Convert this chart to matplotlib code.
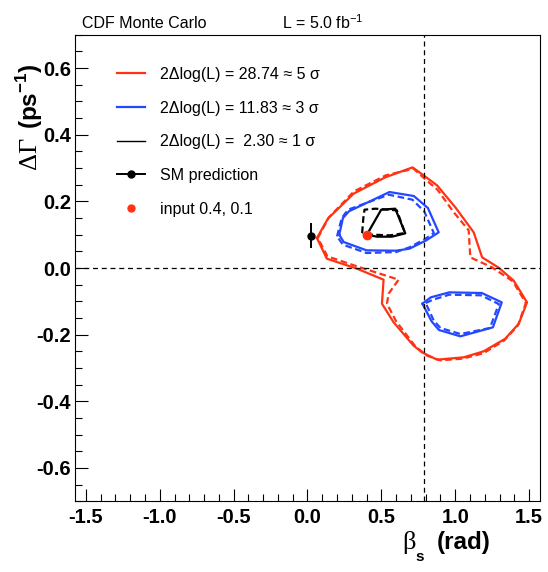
import numpy as np
import matplotlib
matplotlib.use("Agg")
import matplotlib.pyplot as plt
from matplotlib.lines import Line2D

plt.rcParams["font.family"] = ["Liberation Sans", "DejaVu Sans"]
plt.rcParams["axes.unicode_minus"] = False
plt.rcParams["mathtext.fontset"] = "custom"
plt.rcParams["mathtext.rm"] = "Liberation Sans"
plt.rcParams["mathtext.bf"] = "Liberation Sans:bold"

# 5 sigma contour (one closed loop around both islands)
red_x = [0.064, 0.138, 0.312, 0.526, 0.711, 0.786, 0.877, 1.001, 1.125, 1.182, 1.294,
         1.396, 1.486, 1.430, 1.339, 1.192, 1.057, 0.877, 0.775, 0.718, 0.583, 0.504,
         0.515, 0.335, 0.131]
red_y = [0.090, 0.148, 0.223, 0.272, 0.302, 0.278, 0.248, 0.182, 0.107, 0.032, 0.001,
         -0.038, -0.103, -0.167, -0.212, -0.250, -0.268, -0.275, -0.253, -0.233, -0.163,
         -0.107, -0.035, -0.002, 0.028]
red_dash_x = [0.070, 0.145, 0.315, 0.530, 0.718, 0.800, 0.880, 0.985, 1.091, 1.102, 1.249,
              1.390, 1.478, 1.425, 1.330, 1.190, 1.050, 0.899, 0.809, 0.730, 0.600, 0.538,
              0.549, 0.617, 0.335, 0.135]
red_dash_y = [0.090, 0.152, 0.230, 0.278, 0.298, 0.265, 0.235, 0.170, 0.113, 0.032, 0.002,
              -0.040, -0.105, -0.172, -0.218, -0.256, -0.272, -0.277, -0.263, -0.235, -0.160,
              -0.107, -0.077, -0.035, 0.005, 0.035]

# 3 sigma contours (two islands)
blue_up_x = [0.215, 0.240, 0.280, 0.555, 0.720, 0.815, 0.888, 0.800, 0.690, 0.600, 0.400, 0.245]
blue_up_y = [0.100, 0.150, 0.170, 0.228, 0.216, 0.180, 0.107, 0.082, 0.058, 0.052, 0.053, 0.078]
blue_up_dash_x = [0.200, 0.232, 0.275, 0.550, 0.710, 0.790, 0.855, 0.800, 0.690, 0.600, 0.400, 0.240]
blue_up_dash_y = [0.095, 0.150, 0.175, 0.220, 0.205, 0.170, 0.105, 0.088, 0.062, 0.048, 0.045, 0.070]
blue_lo_x = [0.778, 0.835, 0.960, 1.180, 1.315, 1.255, 1.035, 0.890, 0.840]
blue_lo_y = [-0.107, -0.088, -0.073, -0.075, -0.103, -0.178, -0.205, -0.186, -0.160]
blue_lo_dash_x = [0.800, 0.850, 0.960, 1.175, 1.295, 1.235, 1.035, 0.900, 0.855]
blue_lo_dash_y = [-0.105, -0.095, -0.080, -0.082, -0.108, -0.180, -0.198, -0.180, -0.158]

# 1 sigma contour
black_x = [0.402, 0.499, 0.594, 0.662, 0.572, 0.470]
black_y = [0.100, 0.175, 0.178, 0.104, 0.094, 0.094]
black_dash_x = [0.370, 0.378, 0.386, 0.460, 0.605, 0.660, 0.560, 0.440]
black_dash_y = [0.105, 0.150, 0.175, 0.178, 0.173, 0.105, 0.098, 0.100]

sm_beta, sm_dg, sm_err = 0.025, 0.097, 0.038
input_beta, input_dg = 0.40, 0.10

labels = ["2\u0394log(L) = 28.74 \u2248 5 \u03c3",
          "2\u0394log(L) = 11.83 \u2248 3 \u03c3",
          "2\u0394log(L) =  2.30 \u2248 1 \u03c3",
          "SM prediction",
          "input 0.4, 0.1"]

RED = "#ff3314"
BLUE = "#2448ff"


def closed(xs, ys):
    return list(xs) + [xs[0]], list(ys) + [ys[0]]


fig = plt.figure(figsize=(5.48, 5.72), dpi=100)
ax = fig.add_axes([0.1376, 0.1236, 0.847, 0.8157])

lw = 1.6
dash = (0, (3, 1.6))
for xs, ys, col, ls in [
    (red_x, red_y, RED, "-"), (red_dash_x, red_dash_y, RED, dash),
    (blue_up_x, blue_up_y, BLUE, "-"), (blue_up_dash_x, blue_up_dash_y, BLUE, dash),
    (blue_lo_x, blue_lo_y, BLUE, "-"), (blue_lo_dash_x, blue_lo_dash_y, BLUE, dash),
    (black_x, black_y, "black", "-"), (black_dash_x, black_dash_y, "black", dash),
]:
    cx, cy = closed(xs, ys)
    ax.plot(cx, cy, color=col, lw=lw, ls=ls)

ax.axhline(0.0, color="black", lw=0.9, ls=(0, (4, 3)))
ax.axvline(np.pi / 4, color="black", lw=0.9, ls=(0, (4, 3)))

ax.errorbar([sm_beta], [sm_dg], yerr=[sm_err], fmt="o", color="black", ms=5, elinewidth=1.4, capsize=0)
ax.plot([input_beta], [input_dg], "o", color=RED, ms=6)

ax.set_xlim(-np.pi / 2, np.pi / 2)
ax.set_ylim(-0.7, 0.7)
ax.set_xticks(np.arange(-1.5, 1.51, 0.5))
ax.set_xticks(np.arange(-1.5, 1.51, 0.1), minor=True)
ax.set_yticks(np.arange(-0.6, 0.61, 0.2))
ax.set_yticks(np.arange(-0.7, 0.71, 0.05), minor=True)
ax.xaxis.set_major_formatter(matplotlib.ticker.FormatStrFormatter("%.1f"))
ax.yaxis.set_major_formatter(matplotlib.ticker.FormatStrFormatter("%.1f"))
ax.tick_params(which="both", direction="in", top=False, right=False, width=0.8)
ax.tick_params(which="major", length=9, labelsize=14.5)
ax.tick_params(axis="x", which="major", pad=5)
ax.tick_params(axis="y", which="major", pad=3)
ax.tick_params(which="minor", length=5)
for t in ax.get_xticklabels() + ax.get_yticklabels():
    t.set_fontweight("bold")
for s in ax.spines.values():
    s.set_linewidth(0.8)

handles = [Line2D([], [], color=RED, lw=lw),
           Line2D([], [], color=BLUE, lw=lw),
           Line2D([], [], color="black", lw=1.0),
           Line2D([], [], color="black", lw=1.4, marker="o", ms=5),
           Line2D([], [], color=RED, ls="none", marker="o", ms=5)]
ax.legend(handles, labels, loc="upper left", bbox_to_anchor=(116.7 / 548, 1 - 67 / 572),
          bbox_transform=fig.transFigure, frameon=False, borderpad=0, borderaxespad=0,
          handlelength=1.75, handletextpad=0.95, labelspacing=1.17, fontsize=11.5)

# titles
fig.text(82 / 548, 1 - 23 / 572, "CDF Monte Carlo", fontsize=11.5, va="center")
fig.text(282 / 548, 1 - 23 / 572, "L = 5.0 fb$^{-1}$", fontsize=11.5, va="center")

# axis titles
fig.text(409 / 548, 1 - 543 / 572, "\u03b2", family="Liberation Serif", fontsize=19,
         ha="center", va="center")
fig.text(420 / 548, 1 - 557 / 572, "s", fontsize=11, fontweight="bold", ha="center", va="center")
fig.text(464 / 548, 1 - 542 / 572, "(rad)", fontsize=17.5, fontweight="bold", ha="center", va="center")

fig.text(30 / 548, 1 - 153 / 572, "\u0394\u0393", family="Liberation Serif", fontsize=19,
         rotation=90, ha="center", va="center")
fig.text(30 / 548, 1 - 96 / 572, "(ps$^{\\mathbf{-1}}$)", fontsize=17.5, fontweight="bold",
         rotation=90, ha="center", va="center")

fig.savefig("out.png", dpi=100)
